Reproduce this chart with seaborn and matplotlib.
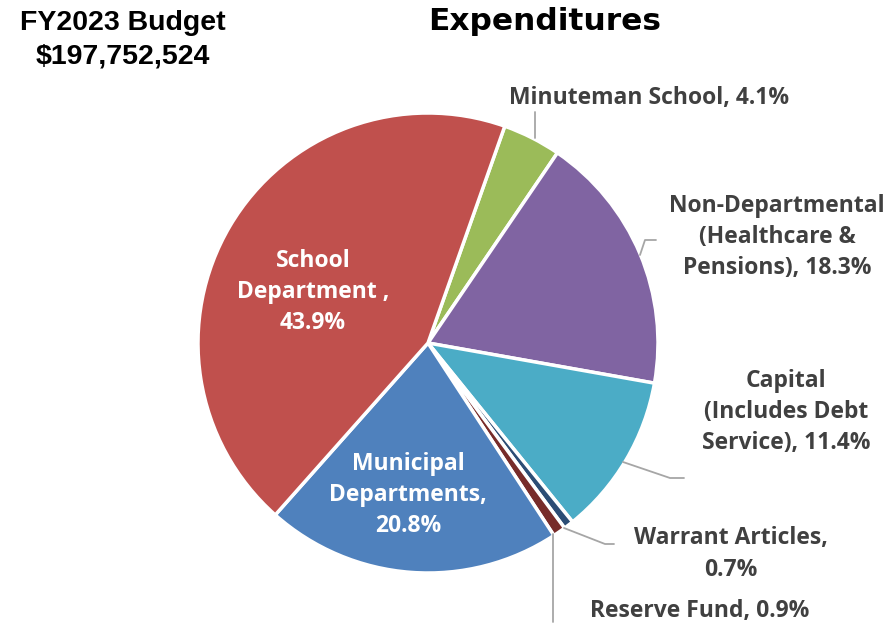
import matplotlib
matplotlib.use('Agg')
import matplotlib.pyplot as plt
import seaborn as sns

# Expenditure shares (%), clockwise from the School / Minuteman boundary
categories = ['Minuteman School', 'Non-Departmental (Healthcare & Pensions)',
              'Capital (Includes Debt Service)', 'Warrant Articles',
              'Reserve Fund', 'Municipal Departments', 'School Department']
shares = [4.1, 18.3, 11.4, 0.7, 0.9, 20.8, 43.9]
colors = ['#9BBB59', '#8064A2', '#4BACC6', '#2C4D75', '#772C2A', '#4F81BD', '#C0504D']

sns.set_theme(style='white')
plt.rcParams['font.family'] = ['Open Sans', 'DejaVu Sans']

fig = plt.figure(figsize=(8.92, 6.28), dpi=100)
ax = fig.add_axes([0, 0, 1, 1])

# pie centred at (428, 343) in pixel-like coords, y axis inverted
wedges, _ = ax.pie(shares, colors=colors, startangle=-70.5, counterclock=True,
                   center=(428, 343), radius=230, frame=True,
                   wedgeprops=dict(edgecolor='white', linewidth=2.5))
ax.set_xlim(0, 892)
ax.set_ylim(628, 0)
ax.set_aspect('equal')
ax.axis('off')

lab = dict(fontsize=16.5, fontweight='bold', color='#404040', ha='center', va='center',
           linespacing=1.4)
inside = dict(fontsize=16.5, fontweight='bold', color='white', ha='center', va='center',
              linespacing=1.4)
line = dict(color='#A6A6A6', linewidth=1.3)

ax.text(313, 292, 'School\nDepartment ,\n43.9%', **inside)
ax.text(408, 495, 'Municipal\nDepartments,\n20.8%', **inside)

ax.text(649, 98, 'Minuteman School, 4.1%', **lab)
ax.plot([535, 535], [112, 138], **line)

ax.text(777, 237, 'Non-Departmental\n(Healthcare &\nPensions), 18.3%', **lab)
ax.plot([656, 645, 640], [240, 240, 255], **line)

ax.text(786, 412, 'Capital\n(Includes Debt\nService), 11.4%', **lab)
ax.plot([684, 670, 623], [478, 478, 462], **line)

ax.text(731, 554, 'Warrant Articles,\n0.7%', **lab)
ax.plot([614, 605, 564], [544, 544, 528], **line)

ax.text(700, 611, 'Reserve Fund, 0.9%', **lab)
ax.plot([553, 553], [534, 622], **line)

# titles
ax.text(545, 22, 'Expenditures', fontsize=22.5, fontweight='heavy', color='black',
        ha='center', va='center', family='DejaVu Sans')
ax.text(123, 23, 'FY2023 Budget', fontsize=20.5, fontweight='bold', color='black',
        ha='center', va='center', family='Liberation Sans')
ax.text(123, 57, '$197,752,524', fontsize=20.5, fontweight='bold', color='black',
        ha='center', va='center', family='Liberation Sans')

fig.savefig('out.png', dpi=100, facecolor='white')
